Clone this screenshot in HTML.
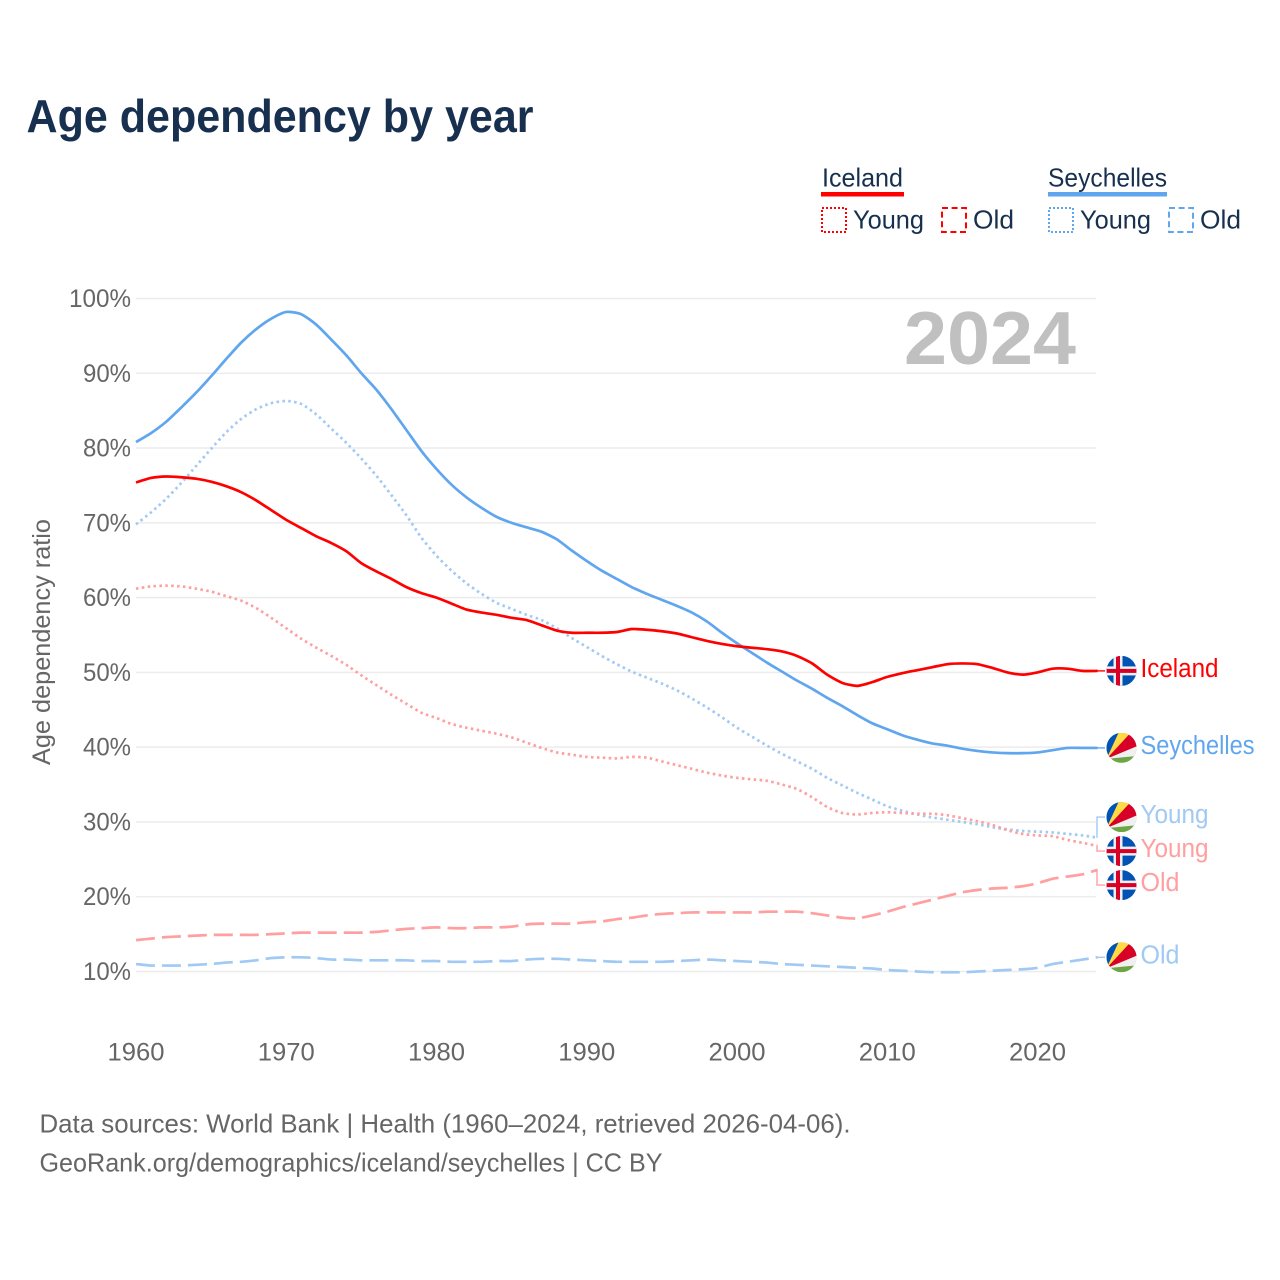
<!DOCTYPE html>
<html lang="en">
<head>
<meta charset="utf-8">
<title>Age dependency by year</title>
<style>
html,body{margin:0;padding:0;background:#fff;}
svg{display:block;font-family:"Liberation Sans",sans-serif;}
</style>
</head>
<body>
<svg id="chart" width="1280" height="1280" viewBox="0 0 1280 1280" xmlns="http://www.w3.org/2000/svg">
  <defs>
    <clipPath id="flag-clip"><circle cx="0" cy="0" r="15"/></clipPath>
  </defs>
  <text x="26.5" y="132" font-size="46" font-weight="700" fill="#17304f" textLength="507" lengthAdjust="spacingAndGlyphs">Age dependency by year</text>

  <g fill="#17304f" font-size="26">
    <text x="822" y="186.5" textLength="81" lengthAdjust="spacingAndGlyphs">Iceland</text>
    <rect x="821" y="192" width="83" height="4.5" fill="#ff0000"/>
    <rect x="822" y="208" width="24" height="24" fill="none" stroke="#ff0000" stroke-width="2" stroke-dasharray="2 2"/>
    <text x="853" y="228.5" textLength="71" lengthAdjust="spacingAndGlyphs">Young</text>
    <rect x="942" y="208" width="24" height="24" fill="none" stroke="#ff0000" stroke-width="2" stroke-dasharray="6 3.6"/>
    <text x="973" y="228.5" textLength="41" lengthAdjust="spacingAndGlyphs">Old</text>
    <text x="1048" y="186.5" textLength="119" lengthAdjust="spacingAndGlyphs">Seychelles</text>
    <rect x="1048" y="192" width="119" height="4.5" fill="#60a6ef"/>
    <rect x="1049" y="208" width="24" height="24" fill="none" stroke="#60a6ef" stroke-width="2" stroke-dasharray="2 2"/>
    <text x="1080" y="228.5" textLength="71" lengthAdjust="spacingAndGlyphs">Young</text>
    <rect x="1169" y="208" width="24" height="24" fill="none" stroke="#60a6ef" stroke-width="2" stroke-dasharray="6 3.6"/>
    <text x="1200" y="228.5" textLength="41" lengthAdjust="spacingAndGlyphs">Old</text>
  </g>

  <g id="grid"></g>
  <g id="yticks"></g>
  <g id="xticks"></g>
  <text transform="translate(50,642) rotate(-90)" text-anchor="middle" font-size="25" fill="#666666" textLength="246" lengthAdjust="spacingAndGlyphs">Age dependency ratio</text>
  <text x="904" y="364" font-size="75" font-weight="700" fill="#c0c0c0" textLength="172" lengthAdjust="spacingAndGlyphs">2024</text>
  <g id="series"></g>
  <g id="labels"></g>

  <text x="39.5" y="1132.5" font-size="26" fill="#666666" textLength="811" lengthAdjust="spacingAndGlyphs">Data sources: World Bank | Health (1960–2024, retrieved 2026-04-06).</text>
  <text x="39.5" y="1171.5" font-size="26" fill="#666666" textLength="623" lengthAdjust="spacingAndGlyphs">GeoRank.org/demographics/iceland/seychelles | CC BY</text>
</svg>
<script>
const startYear = 1960;
const xTickYears = [1960, 1970, 1980, 1990, 2000, 2010, 2020];
const yTickValues = [100, 90, 80, 70, 60, 50, 40, 30, 20, 10];

const seychellesTotal = [80.8,82,83.5,85.4,87.4,89.6,91.9,94.1,95.9,97.3,98.2,97.9,96.5,94.5,92.4,90,87.8,85.2,82.4,79.6,77.2,75.1,73.4,72,70.8,70,69.4,68.8,67.8,66.3,64.9,63.6,62.5,61.4,60.5,59.7,58.9,58,56.8,55.3,53.9,52.6,51.3,50.1,48.9,47.8,46.6,45.5,44.3,43.2,42.4,41.6,41,40.5,40.2,39.8,39.5,39.3,39.2,39.2,39.3,39.6,39.9,39.9,39.9];
const icelandTotal = [75.4,76,76.2,76.1,75.9,75.5,74.9,74.1,73,71.7,70.4,69.3,68.2,67.3,66.2,64.6,63.5,62.5,61.4,60.6,60,59.2,58.4,58,57.7,57.3,57,56.3,55.6,55.3,55.3,55.3,55.4,55.8,55.7,55.5,55.2,54.7,54.2,53.8,53.5,53.3,53.1,52.8,52.2,51.2,49.7,48.6,48.2,48.7,49.4,49.9,50.3,50.7,51.1,51.2,51.1,50.6,50,49.7,50,50.5,50.5,50.2,50.2];
const seychellesYoung = [69.8,71.4,73.2,75.3,77.6,79.9,82.1,83.9,85.2,86,86.3,85.9,84.5,82.6,80.7,78.6,76.3,73.7,71,68,65.6,63.6,61.9,60.5,59.3,58.5,57.7,57,55.9,54.6,53.4,52.2,51.1,50.1,49.3,48.5,47.6,46.5,45.3,44,42.6,41.4,40.2,39.1,38.1,37.1,35.9,34.9,33.9,33,32.1,31.5,31,30.6,30.3,30,29.7,29.3,29,28.8,28.7,28.6,28.4,28.2,27.9];
const icelandYoung = [61.2,61.5,61.6,61.5,61.2,60.8,60.2,59.6,58.6,57.3,55.9,54.5,53.3,52.2,51,49.6,48.3,47,45.8,44.6,43.9,43.1,42.6,42.2,41.8,41.3,40.6,39.9,39.3,39,38.7,38.6,38.5,38.7,38.6,38.1,37.6,37.1,36.6,36.2,35.9,35.7,35.5,35,34.4,33.3,32,31.2,31,31.2,31.3,31.2,31.1,31.1,30.9,30.5,30.1,29.6,28.9,28.4,28.2,28.1,27.6,27.2,26.8];
const icelandOld = [14.2,14.4,14.6,14.7,14.8,14.9,14.9,14.9,14.9,15,15.1,15.2,15.2,15.2,15.2,15.2,15.3,15.5,15.7,15.8,15.9,15.8,15.8,15.9,15.9,16,16.3,16.4,16.4,16.4,16.6,16.7,17,17.2,17.5,17.7,17.8,17.9,17.9,17.9,17.9,17.9,18,18,18,17.8,17.5,17.2,17.1,17.5,18,18.6,19.1,19.6,20.1,20.6,20.9,21.1,21.2,21.4,21.8,22.4,22.7,23,23.6];
const seychellesOld = [11,10.8,10.8,10.8,10.9,11,11.2,11.3,11.5,11.8,11.9,11.9,11.8,11.6,11.6,11.5,11.5,11.5,11.5,11.4,11.4,11.3,11.3,11.3,11.4,11.4,11.6,11.7,11.7,11.6,11.5,11.4,11.3,11.3,11.3,11.3,11.4,11.5,11.6,11.5,11.4,11.3,11.2,11,10.9,10.8,10.7,10.6,10.5,10.4,10.2,10.1,10,9.9,9.9,9.9,10,10.1,10.2,10.3,10.5,11,11.3,11.6,11.9];

const SVGNS = 'http://www.w3.org/2000/svg';
const X0 = 136, PX_PER_YEAR = 15.025, Y100 = 298.5, PX_PER_PCT = 7.478;
function xScale(year) { return X0 + (year - startYear) * PX_PER_YEAR; }
function yScale(v) { return Y100 + (100 - v) * PX_PER_PCT; }
function make(tag, parent, attrs) {
  const el = document.createElementNS(SVGNS, tag);
  for (const k in attrs) el.setAttribute(k, attrs[k]);
  parent.appendChild(el);
  return el;
}
function curvePath(values) {
  const pts = values.map((v, i) => [xScale(startYear + i), yScale(v)]);
  let d = 'M' + pts[0][0].toFixed(2) + ' ' + pts[0][1].toFixed(2);
  for (let i = 0; i < pts.length - 1; i++) {
    const p0 = pts[Math.max(i - 1, 0)], p1 = pts[i], p2 = pts[i + 1], p3 = pts[Math.min(i + 2, pts.length - 1)];
    const c1x = p1[0] + (p2[0] - p0[0]) / 9, c1y = p1[1] + (p2[1] - p0[1]) / 9;
    const c2x = p2[0] - (p3[0] - p1[0]) / 9, c2y = p2[1] - (p3[1] - p1[1]) / 9;
    d += 'C' + [c1x, c1y, c2x, c2y, p2[0], p2[1]].map(n => n.toFixed(2)).join(' ');
  }
  return d;
}

const gridG = document.getElementById('grid');
const yG = document.getElementById('yticks');
const xG = document.getElementById('xticks');
yTickValues.forEach(v => {
  const line = make('line', gridG, {x1: X0, x2: 1096, y1: yScale(v), y2: yScale(v), stroke: '#ececec', 'stroke-width': 1.5});
  
  
  const t = make('text', yG, {x: 131, y: yScale(v) + 8.5, 'text-anchor': 'end', 'font-size': 25, fill: '#666666', textLength: v === 100 ? 62 : 48, lengthAdjust: 'spacingAndGlyphs'});
  t.textContent = v + '%';
  
  
});
xTickYears.forEach(year => {
  const t = make('text', xG, {x: xScale(year), y: 1060.5, 'text-anchor': 'middle', 'font-size': 25, fill: '#666666', textLength: 57, lengthAdjust: 'spacingAndGlyphs'});
  t.textContent = String(year);
  
  
});

const DOT = '2.5 3.4', DASH = '19 7';
const RED = '#ff0000', BLUE = '#60a6ef', LRED = '#ff9f9f', LBLUE = '#a0c9f4';
const seriesList = [
  {id: 'seychelles-old', values: seychellesOld, color: LBLUE, dash: DASH, label: 'Old', width: 39, flag: 'sc'},
  {id: 'iceland-old', values: icelandOld, color: LRED, dash: DASH, label: 'Old', width: 39, flag: 'is'},
  {id: 'seychelles-young', values: seychellesYoung, color: LBLUE, dash: DOT, label: 'Young', width: 68, flag: 'sc'},
  {id: 'iceland-young', values: icelandYoung, color: LRED, dash: DOT, label: 'Young', width: 68, flag: 'is'},
  {id: 'seychelles-total', values: seychellesTotal, color: BLUE, dash: null, label: 'Seychelles', width: 114, flag: 'sc'},
  {id: 'iceland-total', values: icelandTotal, color: RED, dash: null, label: 'Iceland', width: 78, flag: 'is'}
];

const seriesG = document.getElementById('series');
seriesList.forEach(s => {
  const attrs = {d: curvePath(s.values), fill: 'none', stroke: s.color, 'stroke-width': 2.7, 'stroke-linejoin': 'round'};
  if (s.dash) attrs['stroke-dasharray'] = s.dash;
  const p = make('path', seriesG, attrs);
  
  
});

/* de-overlap end labels: clusters closer than the minimum gap are centred on their mean */
const MIN_GAP = 34;
const ordered = seriesList.map(s => ({s: s, y: yScale(s.values[s.values.length - 1])})).sort((a, b) => a.y - b.y);
let clusters = [];
ordered.forEach(o => {
  const last = clusters[clusters.length - 1];
  if (last && o.y - last[last.length - 1].y < MIN_GAP) last.push(o); else clusters.push([o]);
});
clusters.forEach(c => {
  const mean = c.reduce((a, o) => a + o.y, 0) / c.length;
  c.forEach((o, i) => { o.ly = mean + (i - (c.length - 1) / 2) * MIN_GAP; });
});

function drawFlag(parent, kind) {
  const clip = make('g', parent, {'clip-path': 'url(#flag-clip)'});
  if (kind === 'is') {
    make('rect', clip, {x: -15, y: -15, width: 30, height: 30, fill: '#0052b4'});
    make('rect', clip, {x: -15, y: -4.5, width: 30, height: 9, fill: '#f0f0f0'});
    make('rect', clip, {x: -8, y: -15, width: 9, height: 30, fill: '#f0f0f0'});
    make('rect', clip, {x: -15, y: -2, width: 30, height: 4, fill: '#d80027'});
    make('rect', clip, {x: -5.5, y: -15, width: 4, height: 30, fill: '#d80027'});
  } else {
    make('rect', clip, {x: -15, y: -15, width: 30, height: 30, fill: '#6da544'});
    make('polygon', clip, {points: '-15,11 -15,-15 -2,-15', fill: '#0052b4'});
    make('polygon', clip, {points: '-15,11 -3,-15 11,-15', fill: '#ffda44'});
    make('polygon', clip, {points: '-15,11 9,-15 16,-15 16,-1', fill: '#d80027'});
    make('polygon', clip, {points: '-15,11 16,-2 16,8', fill: '#f0f0f0'});
  }
}

const labelsG = document.getElementById('labels');
ordered.forEach(o => {
  const s = o.s;
  const connector = make('path', labelsG, {
    d: 'M1097 ' + o.y.toFixed(1) + 'L1097 ' + o.ly.toFixed(1) + 'L1105 ' + o.ly.toFixed(1),
    fill: 'none', stroke: s.color, 'stroke-width': 1.4
  });
  
  
  const flag = make('g', labelsG, {transform: 'translate(1121.5,' + o.ly.toFixed(1) + ')'});
  
  
  drawFlag(flag, s.flag);
  const t = make('text', labelsG, {x: 1140.5, y: (o.ly + 6).toFixed(1), 'font-size': 25.5, fill: s.color, textLength: s.width, lengthAdjust: 'spacingAndGlyphs'});
  t.textContent = s.label;
  
  
});
</script>
</body>
</html>
